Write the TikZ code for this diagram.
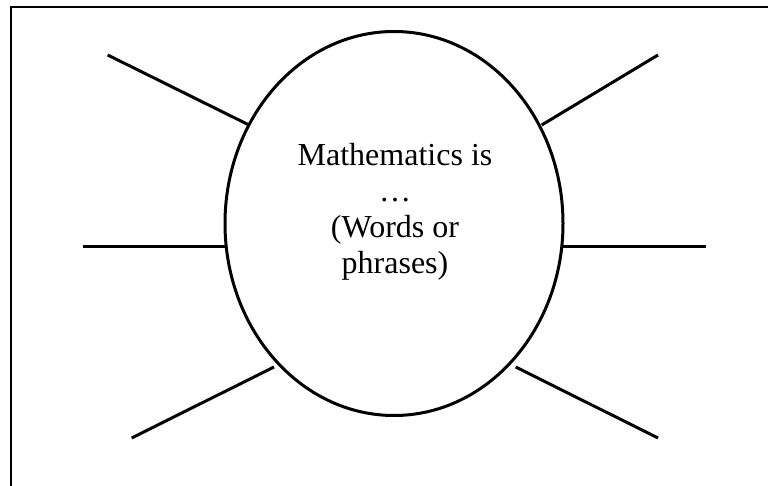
\documentclass[tikz,border=0pt]{standalone}
\usepackage{fontspec}
\setmainfont{Liberation Serif}
\usetikzlibrary{shapes.geometric}
\begin{document}
\begin{tikzpicture}[x=1pt,y=-1pt,
  spoke/.style={line width=3pt},
  frameline/.style={line width=2pt},
  bubble/.style={ellipse,draw,line width=3pt,minimum width=338pt,minimum height=384pt,inner sep=0pt}]
\useasboundingbox (0,0) rectangle (768,486);
\draw[frameline] (11,487) -- (11,7) -- (769,7);
\node[bubble] (c) at (394,223.5) {};
\node[align=center,inner sep=0pt,font=\fontsize{32}{36}\selectfont] (t) at (395,212) {Mathematics is\\…\\(Words or\\phrases)};
\coordinate (a1) at (107.7,55);  \coordinate (b1) at (249,125);
\coordinate (a2) at (83,247);    \coordinate (b2) at (227,247);
\coordinate (a3) at (658,55);    \coordinate (b3) at (541.7,125);
\coordinate (a4) at (706,247);   \coordinate (b4) at (563,247);
\coordinate (a5) at (131.7,438); \coordinate (b5) at (274,367);
\coordinate (a6) at (658,438);   \coordinate (b6) at (515.7,367);
\foreach \i in {1,...,6} {\draw[spoke] (a\i) -- (b\i);}
\end{tikzpicture}
\end{document}
